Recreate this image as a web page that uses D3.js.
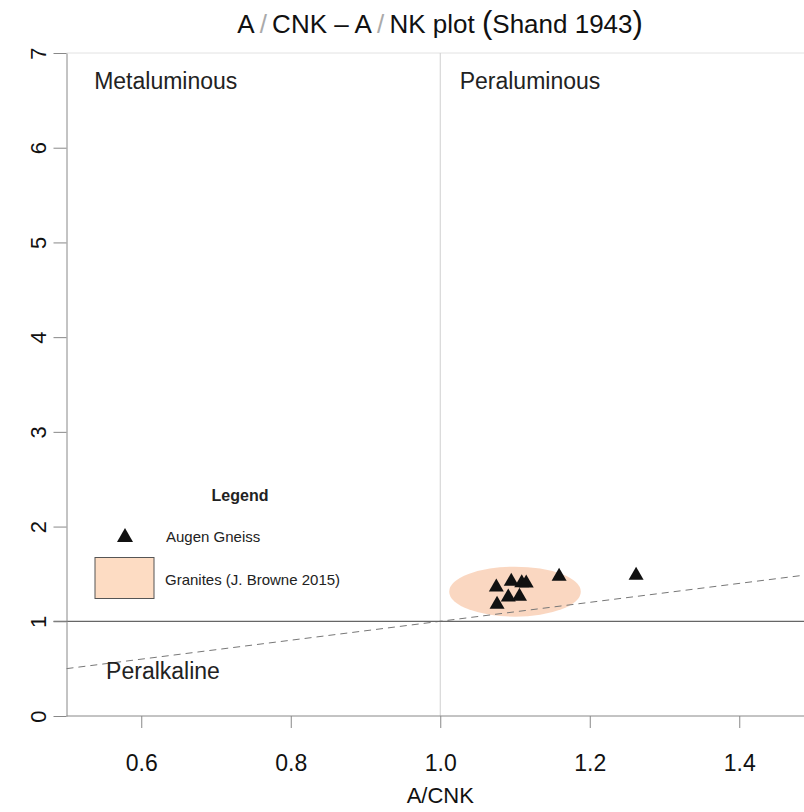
<!DOCTYPE html>
<html>
<head>
<meta charset="utf-8">
<script src="https://cdn.jsdelivr.net/npm/d3@7"></script>
<style>
html,body{margin:0;padding:0;background:#fff;}
svg{display:block;font-family:"Liberation Sans",Arial,sans-serif;}
</style>
</head>
<body>
<svg id="chart" width="804" height="812"></svg>
<script>
// ---- data ----
const xTicks = [0.6, 0.8, 1.0, 1.2, 1.4];
const yTicks = [0, 1, 2, 3, 4, 5, 6, 7];
const gneissACNK = [1.075, 1.095, 1.109, 1.115, 1.159, 1.091, 1.106, 1.076, 1.262];
const gneissANK  = [1.383, 1.443, 1.428, 1.425, 1.496, 1.278, 1.285, 1.201, 1.507];
const graniteField = {cx: 1.100, cy: 1.313, rx: 0.088, ry: 0.264};
const fieldLabels = [
  {text: "Metaluminous", x: 0.537, y: 6.62},
  {text: "Peraluminous", x: 1.026, y: 6.62},
  {text: "Peralkaline",  x: 0.553, y: 0.39}
];
const legendItems = ["Augen Gneiss", "Granites (J. Browne 2015)"];

// ---- scales ----
const svg = d3.select("#chart");
const x = d3.scaleLinear().domain([0.5, 1.5]).range([66.5, 814]);
const y = d3.scaleLinear().domain([0, 7]).range([716, 53]);

// top border (light)
svg.append("line").attr("x1", x(0.5)).attr("x2", 804)
  .attr("y1", y(7)).attr("y2", y(7)).attr("stroke", "#e2e2e2").attr("stroke-width", 1);

// reference lines
svg.append("line").attr("x1", x(1)).attr("x2", x(1))
  .attr("y1", y(7)).attr("y2", y(0)).attr("stroke", "#cfcfcf").attr("stroke-width", 1);

// granite field ellipse
svg.append("ellipse")
  .attr("cx", x(graniteField.cx)).attr("cy", y(graniteField.cy))
  .attr("rx", x(graniteField.cx + graniteField.rx) - x(graniteField.cx))
  .attr("ry", y(graniteField.cy) - y(graniteField.cy + graniteField.ry))
  .attr("fill", "#f9d3ba").attr("fill-opacity", 0.9);

// dashed 1:1 line
svg.append("line")
  .attr("x1", x(0.5)).attr("y1", y(0.5))
  .attr("x2", x(1.5)).attr("y2", y(1.5))
  .attr("stroke", "#777").attr("stroke-width", 1).attr("stroke-dasharray", "7,5");

svg.append("line").attr("x1", x(0.5) - 13).attr("x2", 804)
  .attr("y1", y(1)).attr("y2", y(1)).attr("stroke", "#666").attr("stroke-width", 1.2);

// axes
const xAxis = svg.append("g").attr("transform", `translate(0,${y(0)})`)
  .call(d3.axisBottom(x).tickValues(xTicks).tickFormat(d3.format(".1f")).tickSize(12).tickSizeOuter(0));
xAxis.select(".domain").attr("stroke", "#888").attr("d", `M${x(0.5)},0H804`);
xAxis.selectAll(".tick line").attr("stroke", "#888");
xAxis.selectAll(".tick text").attr("font-size", 23).attr("fill", "#111")
  .attr("font-family", "Liberation Sans, Arial, sans-serif").attr("y", 0).attr("dy", "55px");

const yAxis = svg.append("g").attr("transform", `translate(${x(0.5)},0)`)
  .call(d3.axisLeft(y).tickValues(yTicks).tickFormat(d3.format("d")).tickSize(13).tickSizeOuter(0));
yAxis.select(".domain").attr("stroke", "#888");
yAxis.selectAll(".tick line").attr("stroke", "#888");
yAxis.selectAll(".tick text").attr("font-size", 22).attr("fill", "#111")
  .attr("font-family", "Liberation Sans, Arial, sans-serif")
  .attr("x", null).attr("dy", null).attr("text-anchor", "middle")
  .attr("transform", "translate(-21,0) rotate(-90)");

// axis title
svg.append("text").attr("x", x(1)).attr("y", 803).attr("text-anchor", "middle")
  .attr("font-size", 22).attr("fill", "#111").text("A/CNK");

// title
const title = svg.append("text").attr("x", 440).attr("y", 33).attr("text-anchor", "middle")
  .attr("font-size", 26).attr("fill", "#111");
title.append("tspan").text("A");
title.append("tspan").attr("fill", "#aaa").text("\u2009/\u2009");
title.append("tspan").text("CNK \u2013 A");
title.append("tspan").attr("fill", "#aaa").text("\u2009/\u2009");
title.append("tspan").text("NK plot ");
title.append("tspan").attr("font-size", 31).text("(");
title.append("tspan").text("Shand 1943");
title.append("tspan").attr("font-size", 31).text(")");

// field labels
svg.selectAll("text.field").data(fieldLabels).enter().append("text")
  .attr("class", "field")
  .attr("x", d => x(d.x)).attr("y", d => y(d.y))
  .attr("font-size", 23).attr("fill", "#222").text(d => d.text);

// triangles
const tri = (cx, cy, w, h) => `M${cx},${cy - h / 2}L${cx + w / 2},${cy + h / 2}L${cx - w / 2},${cy + h / 2}Z`;
svg.selectAll("path.pt").data(gneissACNK).enter().append("path")
  .attr("class", "pt")
  .attr("d", (d, i) => tri(x(d), y(gneissANK[i]), 15, 13))
  .attr("fill", "#111");

// legend
svg.append("text").attr("x", 240).attr("y", 501).attr("text-anchor", "middle")
  .attr("font-size", 16).attr("font-weight", "bold").attr("fill", "#222").text("Legend");
svg.append("path").attr("d", tri(125, 535, 16, 14)).attr("fill", "#111");
svg.append("text").attr("x", 166).attr("y", 542).attr("font-size", 15).attr("fill", "#222").text(legendItems[0]);
svg.append("rect").attr("x", 95).attr("y", 557.5).attr("width", 59).attr("height", 41)
  .attr("fill", "#fddcc3").attr("stroke", "#555").attr("stroke-width", 1);
svg.append("text").attr("x", 165).attr("y", 585).attr("font-size", 15).attr("fill", "#222").text(legendItems[1]);
</script>
</body>
</html>
